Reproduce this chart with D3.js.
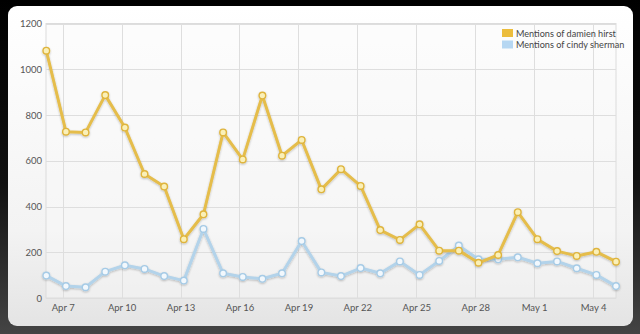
<!DOCTYPE html>
<html><head><meta charset="utf-8">
<script src="https://cdn.jsdelivr.net/npm/d3@7"></script>
<style>html,body{margin:0;padding:0;background:#000;}svg{display:block;}</style>
</head><body><svg id="c" width="640" height="334"></svg>
<script>
const startDate = "2009-04-06T04:00";
const damienHirst = [1081,727,724,887,745,542,487,257,366,724,606,885,622,691,475,563,490,297,254,322,207,207,154,188,375,257,205,184,202,159];
const cindySherman = [98,52,47,115,143,127,96,76,302,108,92,84,108,249,112,96,131,108,160,101,162,229,169,169,178,152,160,130,101,52];
const seriesNames = ["Mentions of damien hirst","Mentions of cindy sherman"];
const yTicks = [0,200,400,600,800,1000,1200];
const xTickLabels = ["Apr 7","Apr 10","Apr 13","Apr 16","Apr 19","Apr 22","Apr 25","Apr 28","May 1","May 4"];

const svg = d3.select("#c");
const defs = svg.append("defs");
const bg = defs.append("linearGradient").attr("id","bg").attr("x1",0).attr("y1",0).attr("x2",0).attr("y2",1);
bg.append("stop").attr("offset","0%").attr("stop-color","#000");
bg.append("stop").attr("offset","55%").attr("stop-color","#111");
bg.append("stop").attr("offset","100%").attr("stop-color","#444");
const pg = defs.append("linearGradient").attr("id","pg").attr("x1",0).attr("y1",0).attr("x2",0).attr("y2",1);
pg.append("stop").attr("offset","0%").attr("stop-color","#ffffff");
pg.append("stop").attr("offset","70%").attr("stop-color","#f3f3f3");
pg.append("stop").attr("offset","100%").attr("stop-color","#e4e4e4");
const sh = defs.append("filter").attr("id","sh").attr("x","-5%").attr("y","-5%").attr("width","110%").attr("height","110%");
sh.append("feGaussianBlur").attr("in","SourceAlpha").attr("stdDeviation",1);
sh.append("feOffset").attr("dx",0).attr("dy",1).attr("result","o");
sh.append("feComponentTransfer").append("feFuncA").attr("type","linear").attr("slope",0.25);
const m = sh.append("feMerge"); m.append("feMergeNode"); m.append("feMergeNode").attr("in","SourceGraphic");

svg.append("rect").attr("width",640).attr("height",334).attr("fill","url(#bg)");
svg.append("rect").attr("x",8).attr("y",6).attr("width",625).attr("height",320).attr("rx",9).attr("fill","url(#pg)");

const parse = d3.timeParse("%Y-%m-%dT%H:%M");
const t0 = parse(startDate);
const dates = damienHirst.map((_,i)=>d3.timeDay.offset(t0,i));
const x = d3.scaleTime().domain([dates[0],dates[dates.length-1]]).range([46.3,616]);
const y = d3.scaleLinear().domain([0,1200]).range([298,23.5]);

const plot = svg.append("g");
plot.append("rect").attr("x",46).attr("y",23.5).attr("width",570).attr("height",274.5).attr("fill","#fafafa").attr("fill-opacity",0.4).attr("stroke","#dcdcdc");

const tickDates = d3.timeDay.range(new Date(2009,3,7), new Date(2009,4,6), 3);
plot.selectAll(".vg").data(tickDates).enter().append("line")
  .attr("x1",d=>Math.round(x(d))+0.5).attr("x2",d=>Math.round(x(d))+0.5)
  .attr("y1",23.5).attr("y2",298).attr("stroke","#dedede");
plot.selectAll(".hg").data(yTicks).enter().append("line")
  .attr("x1",46).attr("x2",616).attr("y1",d=>Math.round(y(d))+0.5).attr("y2",d=>Math.round(y(d))+0.5)
  .attr("stroke","#dedede");

const FONT = "Lato, 'DejaVu Sans', sans-serif";
const xAxis = d3.axisBottom(x).tickValues(tickDates).tickFormat((d,i)=>xTickLabels[i]).tickSize(0).tickPadding(6);
const gx = svg.append("g").attr("transform","translate(0,298)").call(xAxis);
gx.select(".domain").remove();
gx.selectAll("text").attr("font-family",FONT).attr("font-size",9.5).attr("fill","#555");

const yAxis = d3.axisLeft(y).tickValues(yTicks).tickFormat(d3.format("d")).tickSize(0).tickPadding(4);
const gy = svg.append("g").attr("transform","translate(46,0)").call(yAxis);
gy.select(".domain").remove();
gy.selectAll("text").attr("font-family",FONT).attr("font-size",9.5).attr("fill","#555");

const series = [
  {vals: cindySherman, line:"#b3d3ea", fill:"#f2f8fd", stroke:"#a6cbe6"},
  {vals: damienHirst, line:"#e5bd4b", fill:"#faf0b8", stroke:"#dfb43c"}
];
const line = d3.line().x((d,i)=>x(dates[i])).y(d=>y(d));
series.forEach(s=>{
  const g = plot.append("g").attr("filter","url(#sh)");
  g.append("path").datum(s.vals).attr("d",line).attr("fill","none").attr("stroke",s.line).attr("stroke-width",3).attr("stroke-linejoin","round");
  g.selectAll("circle").data(s.vals).enter().append("circle")
    .attr("cx",(d,i)=>x(dates[i])).attr("cy",d=>y(d)).attr("r",3.3)
    .attr("fill",s.fill).attr("stroke",s.stroke).attr("stroke-width",1.4);
});

const legend = svg.append("g").attr("transform","translate(502,29)");
seriesNames.forEach((n,i)=>{
  legend.append("rect").attr("x",0).attr("y",i*11.5).attr("width",11).attr("height",8).attr("fill",i===0?"#ecbd3c":"#b6d7f2");
  legend.append("text").attr("x",14).attr("y",i*11.5+7.5).text(n)
    .attr("font-family",FONT).attr("font-size",9.1).attr("fill","#444");
});
</script></body></html>
